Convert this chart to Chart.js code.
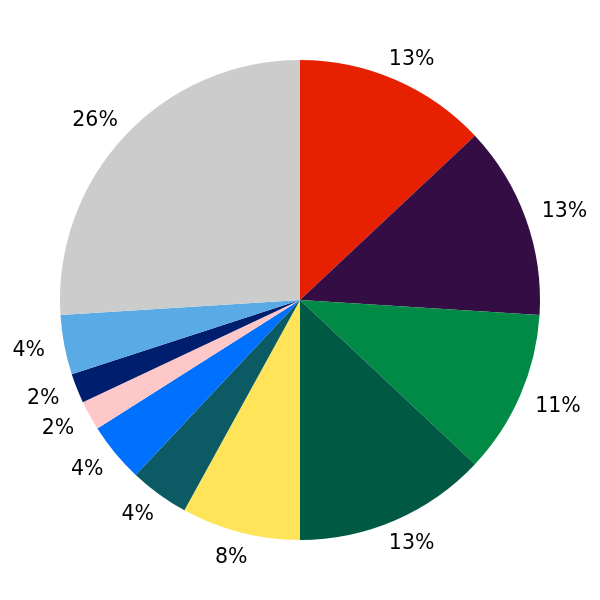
<!DOCTYPE html>
<html>
<head>
<meta charset="utf-8">
<script src="https://cdn.jsdelivr.net/npm/chart.js@4/dist/chart.umd.min.js"></script>
<style>
  html, body { margin: 0; padding: 0; background: #fff; }
  #wrap { width: 600px; height: 600px; }
</style>
</head>
<body>
<div id="wrap"><canvas id="pie" width="600" height="600"></canvas></div>
<script>
// slice data, clockwise from 12 o'clock
const categories = ['A', 'B', 'C', 'D', 'E', 'F', 'G', 'H', 'I', 'J', 'K'];
const shares = [13, 13, 11, 13, 8, 4, 4, 2, 2, 4, 26];

const sliceColors = [
    '#e62000', '#350d45', '#008a45', '#005a43', '#ffe45a', '#0c5a64',
    '#0070ff', '#ffc8c8', '#001e6e', '#5aaae6', '#cccccc'
];

// draws the percent labels just outside each slice
const outsideLabels = {
    id: 'outsideLabels',
    afterDatasetsDraw(chart) {
        const ctx = chart.ctx;
        const meta = chart.getDatasetMeta(0);
        const total = shares.reduce((a, b) => a + b, 0);
        ctx.save();
        ctx.font = '20.5px "DejaVu Sans"';
        ctx.fillStyle = '#000';
        ctx.textAlign = 'center';
        ctx.textBaseline = 'middle';
        meta.data.forEach((arc, i) => {
            const mid = (arc.startAngle + arc.endAngle) / 2;
            const text = Math.round(shares[i] / total * 100) + '%';
            const w = ctx.measureText(text).width;
            const r = arc.outerRadius * 1.1;
            const x = arc.x + Math.cos(mid) * (r + 0.75 * w / 2);
            const y = arc.y + Math.sin(mid) * r;
            ctx.fillText(text, x, y + 1.5);
        });
        ctx.restore();
    }
};

new Chart(document.getElementById('pie'), {
    type: 'pie',
    data: {
        labels: categories,
        datasets: [{
            data: shares,
            backgroundColor: sliceColors,
            borderWidth: 0
        }]
    },
    options: {
        responsive: false,
        animation: false,
        layout: { padding: 60 },
        plugins: {
            legend: { display: false },
            tooltip: { enabled: false }
        }
    },
    plugins: [outsideLabels]
});
</script>
</body>
</html>
